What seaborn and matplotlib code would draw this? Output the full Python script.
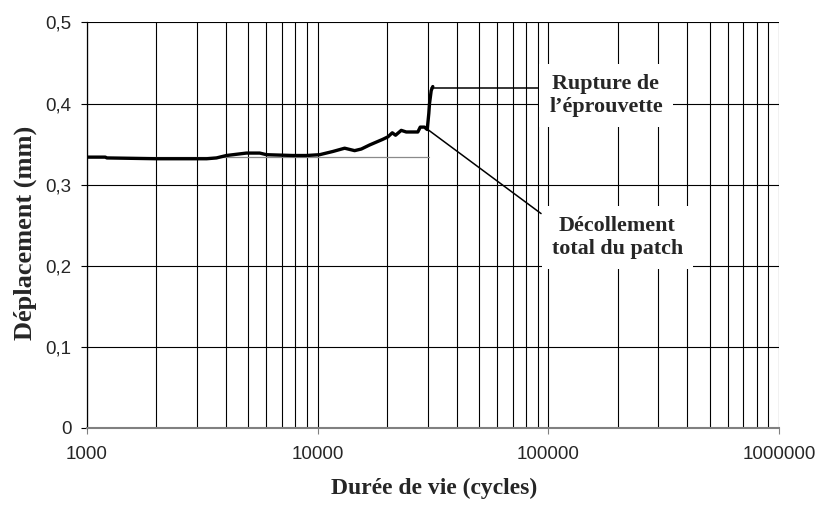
import matplotlib
matplotlib.use("Agg")
import matplotlib.pyplot as plt
import matplotlib.ticker as mticker
import seaborn as sns

# ---- data ----
cycles = [1000, 1200, 1220, 2000, 3300, 3640, 4020, 4910, 5610, 6000, 7820, 8930,
          10200, 11650, 13090, 14460, 15460, 16800, 19170, 20160, 21060, 21760,
          23030, 24210, 27180, 27840, 29050, 29850, 30330, 30540, 31060, 31560]
displacement = [0.334, 0.334, 0.333, 0.332, 0.332, 0.333, 0.336, 0.339, 0.339, 0.337,
                0.336, 0.336, 0.337, 0.341, 0.345, 0.342, 0.344, 0.349, 0.356, 0.359,
                0.364, 0.361, 0.367, 0.365, 0.365, 0.371, 0.371, 0.368, 0.388, 0.400,
                0.416, 0.421]

ref_x = [1000, 30500]
ref_y = [0.3337, 0.3337]

rupture_line_x = [31060, 89900]
rupture_line_y = [0.419, 0.419]
decol_line_x = [30030, 93000]
decol_line_y = [0.368, 0.2644]

rupture_text = "Rupture de\nl\u2019éprouvette"
rupture_pos = (177800, 0.410)
decol_text = "Décollement\ntotal du patch"
decol_pos = (198900, 0.2346)

x_ticks = [1000, 10000, 100000, 1000000]
x_tick_labels = ["1000", "10000", "100000", "1000000"]
y_ticks = [0, 0.1, 0.2, 0.3, 0.4, 0.5]
y_tick_labels = ["0", "0,1", "0,2", "0,3", "0,4", "0,5"]

xlabel = "Durée de vie (cycles)"
ylabel = "Déplacement (mm)"

# ---- figure ----
sns.set_style("white")
fig = plt.figure(figsize=(8.19, 5.05), dpi=100)
ax = fig.add_axes([87 / 819, 77 / 505, 692 / 819, 405.5 / 505])

ax.set_xscale("log")
ax.set_xlim(1000, 1000000)
ax.set_ylim(0, 0.5)

# grid
ax.set_axisbelow(True)
ax.xaxis.set_minor_locator(mticker.LogLocator(base=10, subs=range(2, 10)))
ax.grid(True, which="major", axis="both", color="black", lw=0.8)
ax.grid(True, which="minor", axis="x", color="black", lw=0.8)

# reference line
ax.plot(ref_x, ref_y, color="#8a8a8a", lw=0.9, zorder=2)

# curve
sns.lineplot(x=cycles, y=displacement, ax=ax, color="black", lw=2.4,
             estimator=None, sort=False, zorder=4)

# leader lines
ax.plot(rupture_line_x, rupture_line_y, color="black", lw=1.1, zorder=3)
ax.plot(decol_line_x, decol_line_y, color="black", lw=1.1, zorder=3)

# annotation texts
box = dict(boxstyle="square,pad=0.45", fc="white", ec="none")
for txt, pos in [(rupture_text, rupture_pos), (decol_text, decol_pos)]:
    ax.text(pos[0], pos[1], txt, ha="center", va="center", fontsize=15.8,
            fontweight="bold", family="Liberation Serif", linespacing=1.2,
            bbox=box, zorder=5)

# ticks
ax.set_xticks(x_ticks)
ax.set_xticklabels(x_tick_labels)
ax.set_yticks(y_ticks)
ax.set_yticklabels(y_tick_labels)
ax.tick_params(axis="x", which="major", direction="out", length=4, width=0.8,
               color="#808080", pad=9.3, labelsize=13.5, bottom=True)
ax.tick_params(axis="x", which="minor", length=0, bottom=False)
ax.tick_params(axis="y", which="major", direction="out", length=4.3, width=0.8,
               color="black", pad=7, labelsize=13.5, left=True)
for lab in ax.get_xticklabels() + ax.get_yticklabels():
    lab.set_family("Liberation Sans")

# spines
for s in ["top", "right"]:
    ax.spines[s].set_visible(False)
ax.spines["left"].set_color("black")
ax.spines["left"].set_linewidth(0.9)
ax.spines["bottom"].set_color("#808080")
ax.spines["bottom"].set_linewidth(1.5)

# axis labels
ax.set_xlabel(xlabel, fontsize=17, fontweight="bold", family="Liberation Serif")
ax.set_ylabel(ylabel, fontsize=19, fontweight="bold", family="Liberation Serif")
ax.xaxis.set_label_coords(0.501, -0.123)
ax.yaxis.set_label_coords(-0.072, 0.481)

fig.savefig("out.png", dpi=100)
